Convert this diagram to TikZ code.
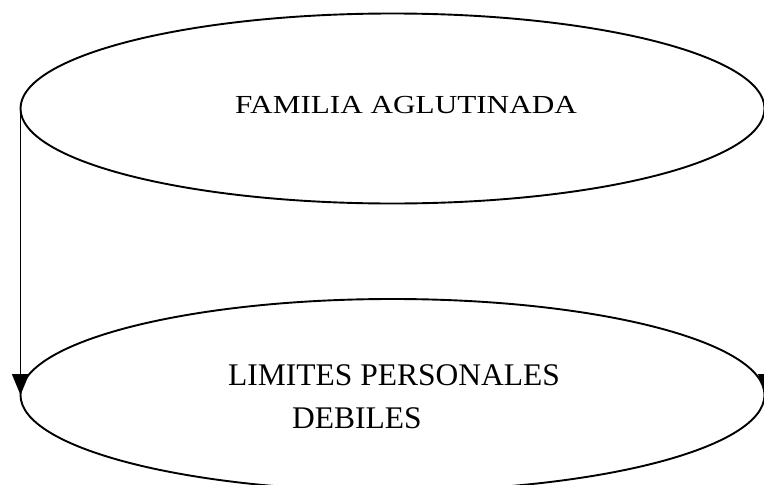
\documentclass[tikz,border=0pt]{standalone}
\usepackage{fontspec}
\setmainfont{Liberation Serif}
\usetikzlibrary{shapes.geometric,arrows.meta}
\begin{document}
\begin{tikzpicture}[x=1pt,y=-1pt,
  oval/.style={ellipse,draw,line width=1.9pt,inner sep=0pt,outer sep=0pt,minimum width=744pt,minimum height=190pt},
  lbl/.style={inner sep=0pt,anchor=base west,font=\fontsize{31.5}{38}\selectfont},
  arr/.style={line width=1.5pt,-{Triangle[length=21pt,width=17pt]}}]
\useasboundingbox (0,0) rectangle (764,485);
\clip (0,0) rectangle (764,485);
\node[oval] (top) at (392.5,108.5) {};
\node[oval,minimum height=192pt] (bot) at (392.5,395) {};
\node[lbl] (t1) at (235,113) {\scalebox{1.2}[1]{\fontsize{26}{30}\selectfont FAMILIA AGLUTINADA}};
\node[lbl] (t2) at (228,385) {LIMITES PERSONALES};
\node[lbl] (t3) at (292,428) {DEBILES};
\draw[arr] (top.west) -- (bot.west);
\draw[arr] ([xshift=2pt]top.east) -- ([xshift=2pt]bot.east);
\end{tikzpicture}
\end{document}
